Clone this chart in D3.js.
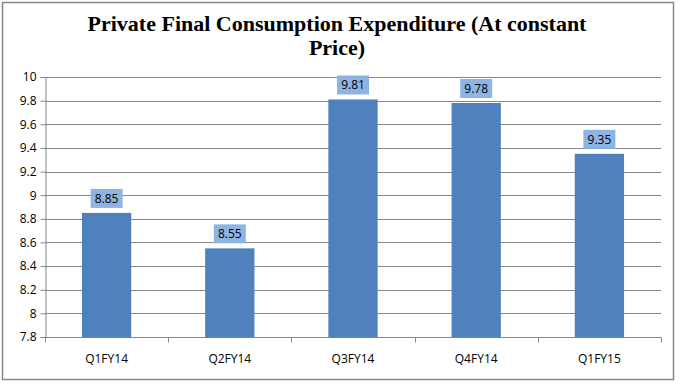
<!DOCTYPE html>
<html>
<head>
<meta charset="utf-8">
<script src="https://cdn.jsdelivr.net/npm/d3@7"></script>
<style>
  body { margin: 0; background: #fff; }
  svg text { font-family: "Open Sans", "Liberation Sans", sans-serif; }
</style>
</head>
<body>
<svg id="chart" width="681" height="386"></svg>
<script>
const categories = ["Q1FY14", "Q2FY14", "Q3FY14", "Q4FY14", "Q1FY15"];
const values = [8.85, 8.55, 9.81, 9.78, 9.35];
const yTicks = [7.8, 8, 8.2, 8.4, 8.6, 8.8, 9, 9.2, 9.4, 9.6, 9.8, 10];

const svg = d3.select("#chart");
const plot = {left: 45, right: 661, top: 77, bottom: 337};

// outer frame
svg.append("rect")
  .attr("x", 2.5).attr("y", 2.5).attr("width", 671).attr("height", 377)
  .attr("fill", "#fff").attr("stroke", "#878787").attr("stroke-width", 1.5);

// title
const title = svg.append("text")
  .attr("text-anchor", "middle")
  .style("font-family", "'Liberation Serif', serif")
  .style("font-weight", "bold")
  .style("font-size", "22px")
  .attr("fill", "#000");
title.append("tspan").attr("x", 337).attr("y", 31).text("Private Final Consumption Expenditure (At constant");
title.append("tspan").attr("x", 337).attr("y", 55).text("Price)");

const x = d3.scaleBand().domain(categories).range([plot.left, plot.right]).paddingInner(0.6).paddingOuter(0.3);
const xOuter = d3.scaleBand().domain(categories).range([plot.left, plot.right]);
const y = d3.scaleLinear().domain([7.8, 10]).range([plot.bottom, plot.top]);

// gridlines
svg.append("g").selectAll("line")
  .data(yTicks.slice(1))
  .join("line")
    .attr("x1", plot.left).attr("x2", plot.right)
    .attr("y1", d => Math.round(y(d)) + 0.5).attr("y2", d => Math.round(y(d)) + 0.5)
    .attr("stroke", "#868686").attr("stroke-width", 1);

// y axis
const yAxis = svg.append("g")
  .attr("transform", `translate(${plot.left + 0.5},0)`)
  .call(d3.axisLeft(y).tickValues(yTicks).tickSize(5).tickFormat(d3.format("")));
yAxis.select(".domain").attr("stroke", "#868686");
yAxis.selectAll(".tick line").attr("stroke", "#868686");
yAxis.selectAll(".tick text").attr("font-size", 12).attr("fill", "#000").attr("x", -9)
  .style("font-family", "'Open Sans', sans-serif");

// bars
svg.append("g").selectAll("rect")
  .data(values)
  .join("rect")
    .attr("x", (d, i) => x(categories[i]))
    .attr("y", d => y(d))
    .attr("width", x.bandwidth())
    .attr("height", d => plot.bottom - y(d))
    .attr("fill", "#4F81BD");

// x axis
const xAxisG = svg.append("g").attr("transform", `translate(0,${plot.bottom + 0.5})`);
xAxisG.append("line")
  .attr("x1", plot.left).attr("x2", plot.right)
  .attr("stroke", "#868686");
xAxisG.selectAll("line.tick")
  .data(categories.map(c => xOuter(c)).concat([plot.right]))
  .join("line")
    .attr("class", "tick")
    .attr("x1", d => Math.round(d) + 0.5).attr("x2", d => Math.round(d) + 0.5)
    .attr("y1", 0).attr("y2", 5)
    .attr("stroke", "#868686");
xAxisG.selectAll("text")
  .data(categories)
  .join("text")
    .attr("x", d => xOuter(d) + xOuter.bandwidth() / 2)
    .attr("y", 25)
    .attr("text-anchor", "middle")
    .attr("font-size", 12)
    .text(d => d);

// data labels
const labels = svg.append("g").selectAll("g")
  .data(values)
  .join("g")
    .attr("transform", (d, i) => `translate(${x(categories[i]) + x.bandwidth() / 2},${y(d) - 5})`);
labels.append("rect")
  .attr("x", -16).attr("y", -19).attr("width", 32).attr("height", 19)
  .attr("fill", "#8EB4E3");
labels.append("text")
  .attr("text-anchor", "middle")
  .attr("y", -5)
  .attr("font-size", 12)
  .attr("fill", "#000")
  .text(d => d.toFixed(2));
</script>
</body>
</html>
